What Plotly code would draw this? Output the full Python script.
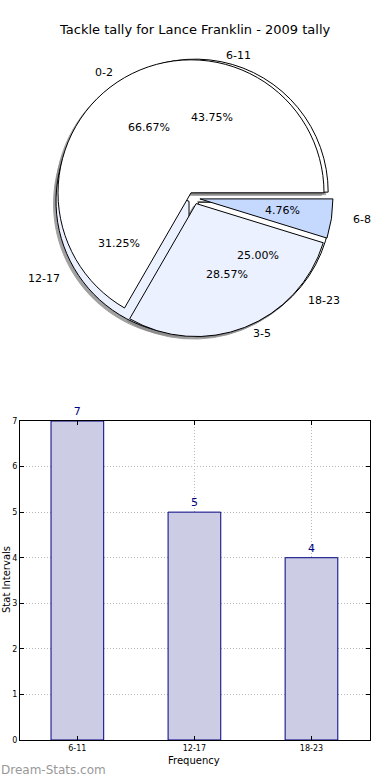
import math
import plotly.graph_objects as go

# ---------------- data ----------------
title_text = "Tackle tally for Lance Franklin - 2009 tally"

pie_a_labels = ["0-2", "3-5", "6-8"]
pie_a_values = [14, 6, 1]
pie_a_colors = ["#FFFFFF", "#EBF1FF", "#C5D9FF"]

pie_b_labels = ["6-11", "12-17", "18-23"]
pie_b_values = [7, 5, 4]
pie_b_colors = ["#FFFFFF", "#EBF1FF", "#FFFFFF"]

bar_categories = ["6-11", "12-17", "18-23"]
bar_values = [7, 5, 4]
y_ticks = [0, 1, 2, 3, 4, 5, 6, 7]

# ---------------- layout constants ----------------
W, H = 390, 780
ML, MR, MT, MB = 20, 20, 0, 40
PW, PH = W - ML - MR, H - MT - MB

def px_x(x):
    return (x - ML) / PW

def px_y(y):
    return (H - MB - y) / PH

FONT = "DejaVu Sans"
PULL = 0.045
R_BASE = 133
CX, CY = 194, 198
half = R_BASE * (1 + PULL)

dom_x = [px_x(CX - half), px_x(CX + half)]
dom_y = [px_y(CY + half), px_y(CY - half)]
shadow_dx, shadow_dy = -2.5, 2.5
sdom_x = [px_x(CX - half + shadow_dx), px_x(CX + half + shadow_dx)]
sdom_y = [px_y(CY + half + shadow_dy), px_y(CY - half + shadow_dy)]

fig = go.Figure()

def add_pie(values, colors, domx, domy, line_color="black", opacity=1.0):
    # first wedge starts at 3 o'clock, going counterclockwise
    f0 = values[0] / sum(values)
    rot = 90 - 360 * f0
    fig.add_trace(go.Pie(
        values=values,
        labels=[str(i) for i in range(len(values))],
        sort=False,
        direction="counterclockwise",
        rotation=rot,
        pull=[PULL] * len(values),
        marker=dict(colors=colors, line=dict(color=line_color, width=1)),
        textinfo="none",
        hoverinfo="skip",
        showlegend=False,
        domain=dict(x=domx, y=domy),
        opacity=opacity,
    ))

# shadows
add_pie(pie_b_values, ["#8a8a8a"] * 3, sdom_x, sdom_y, line_color="#8a8a8a", opacity=0.8)
add_pie(pie_a_values, ["#8a8a8a"] * 3, sdom_x, sdom_y, line_color="#8a8a8a", opacity=0.8)
# pies
add_pie(pie_b_values, pie_b_colors, dom_x, dom_y)
add_pie(pie_a_values, pie_a_colors, dom_x, dom_y)

annotations = []
RX, RY = 140, 126.6
EXPL = 6.0

def pie_annotations(labels, values):
    total = sum(values)
    start = 0.0
    for lab, v in zip(labels, values):
        frac = v / total
        mid = math.radians((start + frac / 2) * 360)
        start += frac
        c, s = math.cos(mid), math.sin(mid)
        ex, ey = EXPL * c, EXPL * s
        lx = CX + ex + 1.1 * RX * c
        ly = CY - ey - 1.1 * RY * s
        annotations.append(dict(
            x=px_x(lx), y=px_y(ly), xref="paper", yref="paper",
            text=lab, showarrow=False, borderpad=0,
            xanchor="left" if c > 0 else "right", yanchor="middle",
            font=dict(family=FONT, size=11, color="black"),
        ))
        tx = CX + ex + 0.6 * RX * c
        ty = CY - ey - 0.6 * RY * s
        annotations.append(dict(
            x=px_x(tx), y=px_y(ty), xref="paper", yref="paper",
            text="%.2f%%" % (frac * 100), showarrow=False, borderpad=0,
            xanchor="center", yanchor="middle",
            font=dict(family=FONT, size=11, color="black"),
        ))

pie_annotations(pie_a_labels, pie_a_values)
pie_annotations(pie_b_labels, pie_b_values)

# ---------------- bar chart ----------------
fig.add_trace(go.Bar(
    x=list(range(len(bar_categories))),
    y=bar_values,
    width=0.45,
    marker=dict(color="#CCCCE5", line=dict(color="#000080", width=1)),
    text=[str(v) for v in bar_values],
    textposition="outside",
    textfont=dict(family=FONT, size=11, color="#000080"),
    cliponaxis=False,
    hoverinfo="skip",
    showlegend=False,
    xaxis="x", yaxis="y",
))

bar_top, bar_bottom = 421, 740
grid_style = dict(showgrid=True, gridcolor="#b8b8b8", griddash="1px,2px", gridwidth=1)
fig.update_layout(
    width=W, height=H,
    margin=dict(l=ML, r=MR, t=MT, b=MB, autoexpand=False),
    paper_bgcolor="white", plot_bgcolor="white",
    font=dict(family=FONT, color="black"),
    xaxis=dict(
        domain=[0, 1],
        range=[-0.49, 2.5],
        tickmode="array",
        tickvals=list(range(len(bar_categories))),
        ticktext=bar_categories,
        tickfont=dict(family=FONT, size=8, color="black"),
        showline=True, linecolor="black", linewidth=1, mirror="ticks",
        ticks="inside", ticklen=4, tickcolor="black",
        zeroline=False, fixedrange=True, automargin=False,
        **grid_style,
    ),
    yaxis=dict(
        domain=[px_y(bar_bottom), px_y(bar_top)],
        range=[0, 7],
        tickmode="array",
        tickvals=y_ticks,
        tickfont=dict(family=FONT, size=8, color="black"),
        showline=True, linecolor="black", linewidth=1, mirror="ticks",
        ticks="inside", ticklen=4, tickcolor="black",
        zeroline=False, fixedrange=True, automargin=False,
        **grid_style,
    ),
)

annotations.append(dict(
    x=px_x(195), y=px_y(29), xref="paper", yref="paper",
    text=title_text, showarrow=False, xanchor="center", yanchor="middle",
    font=dict(family=FONT, size=13, color="black"),
))
annotations.append(dict(
    x=px_x(194), y=px_y(760), xref="paper", yref="paper",
    text="Frequency", showarrow=False, xanchor="center", yanchor="middle",
    font=dict(family=FONT, size=10, color="black"),
))
annotations.append(dict(
    x=px_x(6), y=px_y(580), xref="paper", yref="paper",
    text="Stat Intervals", showarrow=False, xanchor="center", yanchor="middle",
    textangle=-90,
    font=dict(family=FONT, size=10, color="black"),
))
annotations.append(dict(
    x=px_x(0), y=px_y(770), xref="paper", yref="paper",
    text="Dream-Stats.com", showarrow=False, xanchor="left", yanchor="middle",
    borderpad=0,
    font=dict(family=FONT, size=12, color="#999999"),
))
fig.update_layout(annotations=annotations)

fig.write_html(
    "out.html",
    config={"displayModeBar": False},
    post_script="document.body.style.margin='0';document.body.style.overflow='hidden';",
)
